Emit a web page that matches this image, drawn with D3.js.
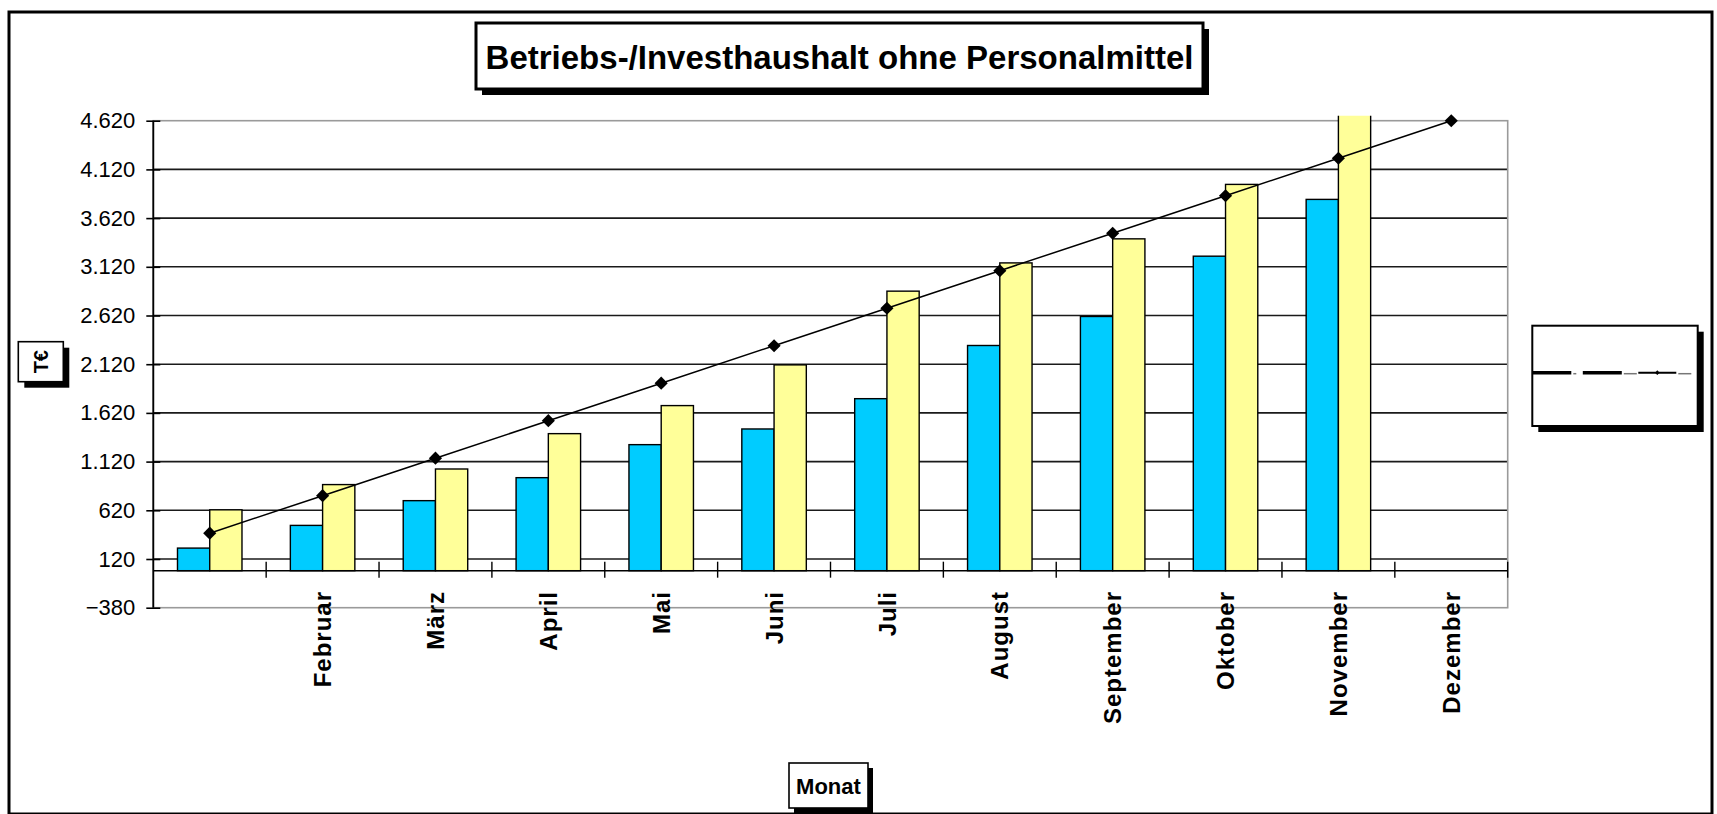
<!DOCTYPE html>
<html>
<head>
<meta charset="utf-8">
<script src="https://d3js.org/d3.v7.min.js"></script>
<style>
  body { margin: 0; background: #fff; }
  svg text { font-family: "Liberation Sans", Arial, sans-serif; }
</style>
</head>
<body>
<div id="chart-container"></div>
<script>
// chart data (T€ per month)
const months = ["Januar", "Februar", "März", "April", "Mai", "Juni", "Juli", "August", "September", "Oktober", "November", "Dezember"];
const istValues = [232, 465, 719, 955, 1294, 1455, 1766, 2312, 2610, 3229, 3812, null];
const sollValues = [625, 884, 1044, 1407, 1695, 2113, 2870, 3160, 3407, 3966, 4800, null];
const planLine = [385, 770, 1155, 1540, 1925, 2310, 2695, 3080, 3465, 3850, 4235, 4620];
const yTicks = [-380, 120, 620, 1120, 1620, 2120, 2620, 3120, 3620, 4120, 4620];

document.addEventListener('DOMContentLoaded', function(){
  drawChart();
});

function drawChart(){
  let svgWidth = 1717;
  let svgHeight = 814;

  let left = 153.3, right = 1507.7;
  let top = 120.7, bottom = 607.7;

  let svg = d3.select('#chart-container')
    .append('svg')
    .attr('width', svgWidth)
    .attr('height', svgHeight);

  //outer frame
  svg.append("rect")
    .attr("x", 9).attr("y", 12)
    .attr("width", 1703).attr("height", 802)
    .attr("fill", "#fff")
    .attr("stroke", "#000")
    .attr("stroke-width", 3);

  // helper for the boxed labels with a drop shadow
  function shadowBox(x, y, w, h, off, sw){
    svg.append("rect")
      .attr("x", x + off).attr("y", y + off)
      .attr("width", w).attr("height", h)
      .attr("fill", "#000");
    svg.append("rect")
      .attr("x", x).attr("y", y)
      .attr("width", w).attr("height", h)
      .attr("fill", "#fff")
      .attr("stroke", "#000")
      .attr("stroke-width", sw);
  }

  //title
  shadowBox(476, 23, 727, 66, 6, 3);
  svg.append("text")
    .text("Betriebs-/Investhaushalt ohne Personalmittel")
    .attr("x", 839.5)
    .attr("y", 57)
    .attr("text-anchor", "middle")
    .attr("dominant-baseline", "central")
    .style("font-size", "33px")
    .style("font-weight", "bold");

  //scales
  let xScale = d3.scaleBand()
    .domain(months)
    .range([left, right])
    .padding(0);

  let xSub = d3.scaleBand()
    .domain(["ist", "soll"])
    .range([0, xScale.bandwidth()])
    .paddingInner(0)
    .paddingOuter(0.75);

  let yScale = d3.scaleLinear()
    .domain([-380, 4620])
    .range([bottom, top]);

  let de = d3.formatLocale({decimal: ",", thousands: ".", grouping: [3], currency: ["", " €"]});
  let fmt = de.format(",d");

  //grid lines
  svg.append("g")
    .selectAll("line")
    .data(yTicks.slice(1, -1))
    .enter()
    .append("line")
    .attr("x1", left).attr("x2", right)
    .attr("y1", d => yScale(d)).attr("y2", d => yScale(d))
    .attr("stroke", "#1a1a1a")
    .attr("stroke-width", 1.6);

  //plot area border
  svg.append("rect")
    .attr("x", left).attr("y", top)
    .attr("width", right - left).attr("height", bottom - top)
    .attr("fill", "none")
    .attr("stroke", "#9a9a9a")
    .attr("stroke-width", 1.6);

  //bars
  svg.append("clipPath").attr("id", "bar-clip")
    .append("rect")
    .attr("x", left).attr("y", top - 5)
    .attr("width", right - left).attr("height", bottom - top + 5);

  let bars = svg.append("g").attr("clip-path", "url(#bar-clip)");

  let barData = [];
  months.forEach((m, i) => {
    if (istValues[i] != null) barData.push({month: m, key: "ist", value: istValues[i]});
    if (sollValues[i] != null) barData.push({month: m, key: "soll", value: sollValues[i]});
  });

  bars.selectAll("rect")
    .data(barData)
    .enter()
    .append("rect")
    .attr("x", d => xScale(d.month) + xSub(d.key))
    .attr("y", d => yScale(d.value))
    .attr("width", xSub.bandwidth())
    .attr("height", d => yScale(0) - yScale(d.value))
    .attr("fill", d => d.key == "ist" ? "#00ccff" : "#ffff99")
    .attr("stroke", "#000")
    .attr("stroke-width", 1.4);

  //category axis at zero
  svg.append("line")
    .attr("x1", left).attr("x2", right)
    .attr("y1", yScale(0)).attr("y2", yScale(0))
    .attr("stroke", "#000")
    .attr("stroke-width", 1.6);

  // tick marks between the categories
  let bounds = months.map(m => xScale(m) + xScale.bandwidth());
  svg.append("g")
    .selectAll("line")
    .data(bounds)
    .enter()
    .append("line")
    .attr("x1", d => d).attr("x2", d => d)
    .attr("y1", yScale(0) - 9).attr("y2", yScale(0) + 7)
    .attr("stroke", "#000")
    .attr("stroke-width", 1.4);

  //category labels (the source shows no label for Januar)
  svg.append("g")
    .selectAll("text")
    .data(months.slice(1))
    .enter()
    .append("text")
    .text(d => d)
    .attr("transform", d => "translate(" + (xScale(d) + xScale.bandwidth() / 2) + "," + 591 + ") rotate(-90)")
    .attr("text-anchor", "end")
    .attr("dy", "0.36em")
    .style("font-size", "24px")
    .style("font-weight", "bold")
    .style("letter-spacing", "1px");

  //value axis
  const yAxis = d3.axisLeft(yScale)
    .tickValues(yTicks)
    .tickSize(7)
    .tickFormat(d => fmt(d));

  let yg = svg.append("g")
    .attr("transform", "translate(" + left + ",0)")
    .call(yAxis);
  yg.select(".domain")
    .attr("stroke", "#000")
    .attr("stroke-width", 1.8)
    .attr("d", "M0," + top + "V" + bottom);
  yg.selectAll(".tick line")
    .attr("x1", 7)
    .attr("stroke", "#000")
    .attr("stroke-width", 1.6);
  yg.selectAll(".tick text")
    .attr("x", -18)
    .style("font-size", "22px")
    .style("font-family", "'Liberation Sans', Arial, sans-serif")
    .attr("fill", "#000");

  //plan line with diamond markers
  let lineData = months.map((m, i) => ({month: m, value: planLine[i]}));
  let lineGen = d3.line()
    .x(d => xScale(d.month) + xScale.bandwidth() / 2)
    .y(d => yScale(d.value));

  svg.append("path")
    .datum(lineData)
    .attr("d", lineGen)
    .attr("fill", "none")
    .attr("stroke", "#000")
    .attr("stroke-width", 1.5);

  svg.append("g")
    .selectAll("path")
    .data(lineData)
    .enter()
    .append("path")
    .attr("d", d3.symbol().type(d3.symbolDiamond2).size(110))
    .attr("transform", d => "translate(" + (xScale(d.month) + xScale.bandwidth() / 2) + "," + yScale(d.value) + ")")
    .attr("fill", "#000");

  //axis titles
  shadowBox(18.3, 341.7, 45, 40, 6, 1.6);
  svg.append("text")
    .text("T€")
    .attr("transform", "translate(40.8,361.7) rotate(-90)")
    .attr("text-anchor", "middle")
    .attr("dy", "0.36em")
    .style("font-size", "20px")
    .style("font-weight", "bold");

  shadowBox(789, 763, 79, 45, 5, 1.6);
  svg.append("text")
    .text("Monat")
    .attr("x", 828.5)
    .attr("y", 786)
    .attr("text-anchor", "middle")
    .attr("dominant-baseline", "central")
    .style("font-size", "22px")
    .style("font-weight", "bold");

  //legend (its entries are squashed to thin strokes in the source)
  shadowBox(1532.3, 325.7, 165.4, 100.3, 6, 2);
  let legendKeys = [
    {w: 3.5, len: 39},
    {w: 3.5, len: 39},
    {w: 2, len: 38}
  ];
  let lx = 1532.3;
  let ly = 372.7;
  legendKeys.forEach((k, i) => {
    let x0 = lx + i * 53.5 + (i == 0 ? 0 : -5 + i * 2);
    svg.append("line")
      .attr("x1", x0).attr("x2", x0 + k.len)
      .attr("y1", ly).attr("y2", ly)
      .attr("stroke", "#000")
      .attr("stroke-width", k.w);
    svg.append("line")
      .attr("x1", x0 + k.len + 2).attr("x2", x0 + k.len + (i == 0 ? 5 : 15))
      .attr("y1", ly + 1).attr("y2", ly + 1)
      .attr("stroke", "#777")
      .attr("stroke-width", 1.5);
    if (i == 2) {
      svg.append("path")
        .attr("d", d3.symbol().type(d3.symbolDiamond2).size(14))
        .attr("transform", "translate(" + (x0 + k.len / 2) + "," + ly + ")")
        .attr("fill", "#000");
    }
  });
}
</script>
</body>
</html>
